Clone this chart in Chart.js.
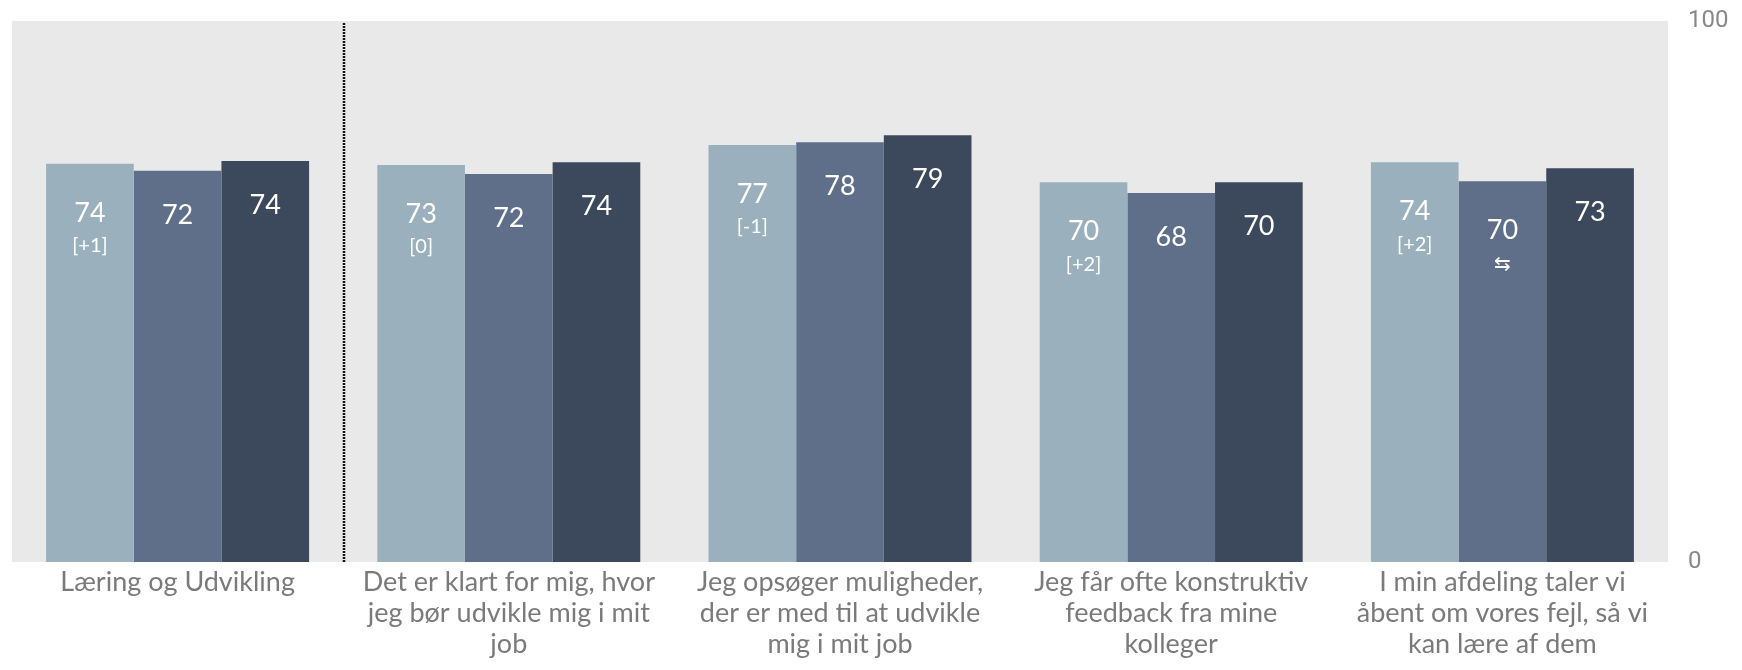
<!DOCTYPE html>
<html lang="da">
<head>
  <meta charset="UTF-8">
  <title>Læring og Udvikling</title>
  <script src="https://cdn.jsdelivr.net/npm/chart.js"></script>
  <style>
    html, body { margin: 0; padding: 0; background: #fff; }
  </style>
</head>
<body>
<canvas id="chart" width="1742" height="670"></canvas>

<script>
// kategorier (allerede ombrudt i linjer)
const categories = [
  "Læring og Udvikling",
  ["Det er klart for mig, hvor", "jeg bør udvikle mig i mit", "job"],
  ["Jeg opsøger muligheder,", "der er med til at udvikle", "mig i mit job"],
  ["Jeg får ofte konstruktiv", "feedback fra mine", "kolleger"],
  ["I min afdeling taler vi", "åbent om vores fejl, så vi", "kan lære af dem"]
];

// serieværdier
const lightValues = [73.6, 73.4, 77.1, 70.2, 73.9];
const midValues   = [72.3, 71.7, 77.6, 68.2, 70.4];
const darkValues  = [74.1, 73.9, 78.9, 70.2, 72.8];

// ekstra tekst under tallet
const lightNotes = ["[+1]", "[0]", "[-1]", "[+2]", "[+2]"];
const midNotes   = ["", "", "", "", "⇆"];
const darkNotes  = ["", "", "", "", ""];

const yTicks = [0, 100];

const FONT = "Lato, 'Open Sans', sans-serif";

// grå baggrund bag plotområdet + stiplet skillelinje
const background = {
  id: "background",
  beforeDraw(chart) {
    const { ctx, chartArea: a } = chart;
    ctx.save();
    ctx.fillStyle = "#e9e9e9";
    ctx.fillRect(a.left, a.top, a.right - a.left, a.bottom - a.top);
    ctx.restore();
  },
  afterDatasetsDraw(chart) {
    const { ctx, chartArea: a } = chart;
    const xs = chart.scales.x;
    const x = Math.round((xs.getPixelForValue(0) + xs.getPixelForValue(1)) / 2) + 1;
    ctx.save();
    ctx.strokeStyle = "#111111";
    ctx.lineWidth = 2.5;
    ctx.setLineDash([2, 1]);
    ctx.beginPath();
    ctx.moveTo(x, a.top + 2);
    ctx.lineTo(x, a.bottom);
    ctx.stroke();
    ctx.restore();
  }
};

// hvide tal inde i søjlerne
const barLabels = {
  id: "barLabels",
  afterDatasetsDraw(chart) {
    const ctx = chart.ctx;
    ctx.save();
    ctx.fillStyle = "#ffffff";
    ctx.textAlign = "center";
    ctx.textBaseline = "middle";
    chart.data.datasets.forEach((ds, di) => {
      chart.getDatasetMeta(di).data.forEach((bar, i) => {
        const note = ds.notes[i];
        const valY = note ? bar.y + 49 : bar.y + 44;
        ctx.font = "27px " + FONT;
        ctx.fillText(Math.round(ds.data[i]), bar.x, valY);
        if (note) {
          ctx.font = "20px " + FONT;
          ctx.fillText(note, bar.x, bar.y + 82);
        }
      });
    });
    ctx.restore();
  }
};

new Chart(document.getElementById("chart"), {
  type: "bar",
  data: {
    labels: categories,
    datasets: [
      { data: lightValues, notes: lightNotes, backgroundColor: "#9ab1bd" },
      { data: midValues, notes: midNotes, backgroundColor: "#5f6f8a" },
      { data: darkValues, notes: darkNotes, backgroundColor: "#3c495d" }
    ]
  },
  options: {
    responsive: false,
    animation: false,
    devicePixelRatio: 1,
    layout: { padding: { left: 12, top: 21, right: 0, bottom: 0 } },
    datasets: { bar: { categoryPercentage: 0.794, barPercentage: 1 } },
    plugins: { legend: { display: false }, tooltip: { enabled: false } },
    scales: {
      x: {
        grid: { display: false, drawTicks: false },
        border: { display: false },
        ticks: {
          color: "#7a7a7a",
          padding: 5,
          maxRotation: 0,
          autoSkip: false,
          font: { family: FONT, size: 27, lineHeight: 1.15 }
        },
        afterFit(scale) { scale.height = 108; }
      },
      y: {
        position: "right",
        min: 0,
        max: 100,
        grid: { display: false, drawTicks: false },
        border: { display: false },
        afterBuildTicks(scale) { scale.ticks = yTicks.map(v => ({ value: v })); },
        ticks: {
          color: "#888888",
          padding: 20,
          font: { family: "Roboto, sans-serif", size: 24 }
        },
        afterFit(scale) {
          scale.width = 74;
          scale.paddingTop = 0;
          scale.paddingBottom = 0;
        }
      }
    }
  },
  plugins: [background, barLabels]
});
</script>
</body>
</html>
